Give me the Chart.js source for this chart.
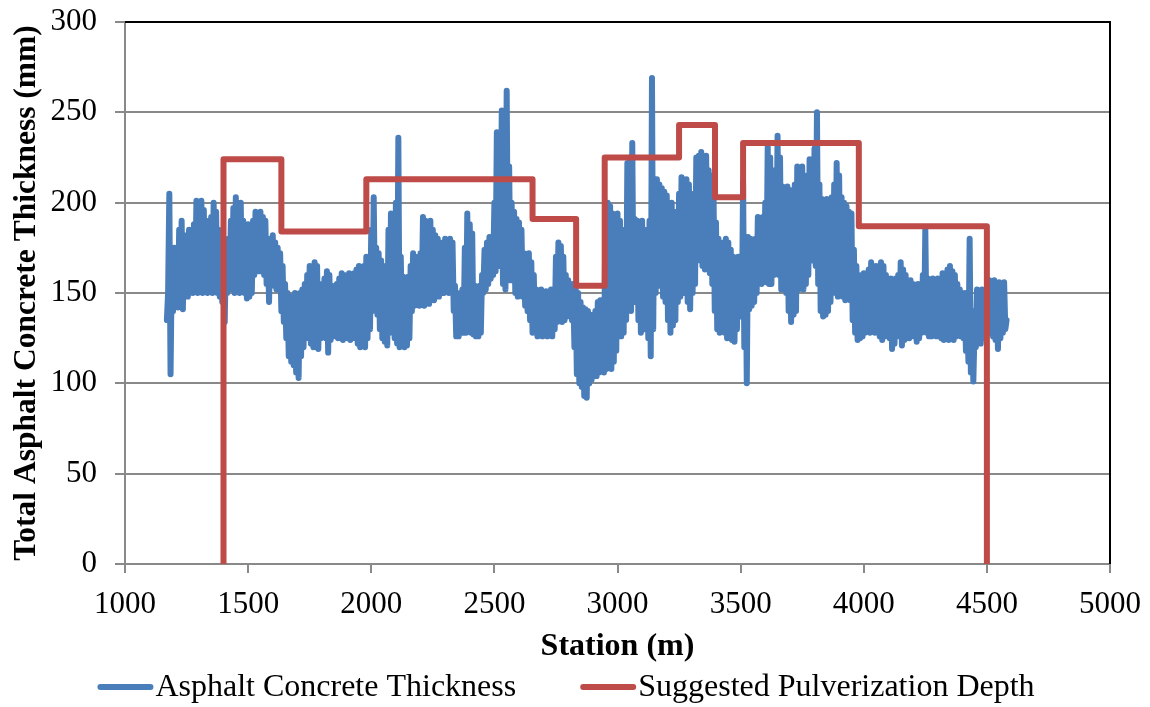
<!DOCTYPE html>
<html><head><meta charset="utf-8">
<script src="https://cdn.jsdelivr.net/npm/chart.js@4.4.1/dist/chart.umd.min.js"></script>
<style>html,body{margin:0;padding:0;background:#fff;overflow:hidden}#wrap{width:1150px;height:707px}</style>
</head><body><div id="wrap"><canvas id="c" width="1150" height="707"></canvas></div>
<script>
// ---- data ----
const STATION_START = 1170;   // m, first sample
const STATION_STEP = 5;       // m, sample spacing
// one row = 100 m of survey (20 readings)
const thicknessMm = [
  135,150,205,105,165,140,175,145,170,142,185,150,190,141,178,150,182,148,185,152,
  178,150,188,152,201,150,198,153,201,150,196,152,190,150,185,151,192,150,200,153,
  195,150,185,148,178,145,160,134,175,150,180,152,190,154,197,150,203,152,198,150,
  200,155,190,150,185,147,188,148,180,150,190,160,195,165,194,162,195,165,192,160,
  190,155,180,145,178,155,182,154,178,152,175,155,172,140,165,134,155,125,150,115,
  148,112,145,110,150,106,140,103,150,115,152,120,155,125,160,128,165,122,162,120,
  167,122,165,119,155,125,150,128,158,125,162,117,160,124,154,126,152,128,155,125,
  158,126,161,124,160,128,156,125,161,124,158,127,161,125,163,122,165,120,162,122,
  165,120,170,125,168,130,185,140,203,145,175,138,172,130,168,125,165,123,160,121,
  185,128,194,130,190,125,200,122,236,120,170,122,159,120,155,121,159,125,165,140,
  172,143,170,145,168,143,172,145,192,143,190,145,188,144,190,150,185,146,182,148,
  180,148,178,150,176,150,180,152,178,150,180,152,178,140,154,126,150,126,148,128,
  152,128,175,128,194,130,188,128,183,127,154,126,152,126,154,128,160,150,174,152,
  178,155,181,158,180,160,200,162,239,165,200,165,251,155,240,152,262,160,220,157,
  200,157,195,150,191,148,189,150,185,148,172,143,170,140,172,135,167,128,160,130,
  152,126,150,128,152,126,150,127,151,126,150,128,152,126,150,130,170,134,178,136,
  176,134,170,135,160,137,157,138,155,135,155,120,154,105,150,100,145,98,142,93,
  141,92,140,100,138,102,135,104,140,104,145,106,146,108,145,106,180,108,200,110,
  198,108,194,112,190,118,194,126,190,126,181,128,185,135,222,145,225,140,233,145,
  191,145,190,135,188,128,190,130,185,130,182,125,190,115,269,130,210,150,213,154,
  210,154,208,148,206,145,204,135,200,128,200,132,195,135,190,145,205,148,214,150,
  213,150,213,145,210,141,200,150,205,155,225,170,226,168,228,165,225,163,226,165,
  218,161,215,155,205,140,189,130,180,128,175,130,178,128,180,125,178,126,174,124,
  170,123,165,130,170,137,168,137,211,120,180,100,181,141,180,143,178,145,180,150,
  192,157,190,155,192,157,200,156,231,155,225,155,215,160,218,165,237,160,225,152,
  209,160,207,150,209,140,207,134,205,138,210,140,220,152,218,155,220,152,215,155,
  212,160,224,168,224,168,230,165,250,155,210,140,202,137,200,138,202,140,198,145,
  203,155,210,150,222,148,215,150,203,148,200,146,198,147,195,146,194,135,174,128,
  165,124,160,125,154,126,161,128,160,130,163,128,167,130,164,128,165,130,162,126,
  167,124,165,126,160,128,155,125,158,119,155,122,158,126,160,128,167,121,163,124,
  160,126,157,125,157,128,155,126,152,123,155,125,155,128,160,130,185,128,158,126,
  157,126,158,128,156,126,158,128,150,125,161,124,160,126,163,124,165,126,162,124,
  160,126,155,128,152,126,150,125,150,118,148,112,180,106,140,101,130,120,152,122,
  150,122,152,125,148,128,150,130,157,128,156,126,157,124,155,119,156,125,155,128,
  156,130,135
];
const pulvBreaks = [1400, 1635, 1980, 2655, 2832, 2948, 3250, 3396, 3510, 3980, 4500]; // m
const pulvDepths = [224, 184, 213, 191, 154, 225, 243, 203, 233, 187];               // mm
const seriesNames = ['Asphalt Concrete Thickness', 'Suggested Pulverization Depth'];
const xAxisTitle = 'Station (m)';
const yAxisTitle = 'Total Asphalt Concrete Thickness (mm)';
const X_MIN = 1000, X_MAX = 5000, X_STEP = 500;
const Y_MIN = 0, Y_MAX = 300, Y_STEP = 50;

// ---- build library data ----
const thicknessPts = thicknessMm.map((v, i) => ({x: STATION_START + i * STATION_STEP, y: v}));
const pulvPts = [{x: pulvBreaks[0], y: 0}];
pulvDepths.forEach((d, i) => {
  pulvPts.push({x: pulvBreaks[i], y: d});
  pulvPts.push({x: pulvBreaks[i + 1], y: d});
});
pulvPts.push({x: pulvBreaks[pulvBreaks.length - 1], y: 0});

const BLUE = '#4A7EBB', RED = '#BE4B48';
const FONT = "'Liberation Serif', 'Times New Roman', serif";
const GRID = '#898989';

const frame = {
  id: 'frame',
  afterDatasetsDraw(chart) {
    const {ctx, chartArea: a} = chart;
    ctx.save();
    ctx.strokeStyle = '#000';
    ctx.lineWidth = 2;
    ctx.beginPath();
    ctx.moveTo(a.left, a.top); ctx.lineTo(a.right, a.top); ctx.lineTo(a.right, a.bottom);
    ctx.stroke();
    ctx.restore();
  },
  afterDraw(chart) {
    // legend
    const ctx = chart.ctx;
    ctx.save();
    ctx.font = '32px ' + FONT;
    ctx.textBaseline = 'middle';
    const sample = 56, gap = 2, spacing = 64, cy = 687;
    const ds = chart.data.datasets;
    const widths = ds.map(d => ctx.measureText(d.label).width);
    const total = widths.reduce((s, w) => s + sample + gap + w, 0) + spacing * (ds.length - 1);
    let x = 566 - total / 2;
    ds.forEach((d, i) => {
      ctx.strokeStyle = d.borderColor;
      ctx.lineWidth = 6;
      ctx.lineCap = 'round';
      ctx.beginPath(); ctx.moveTo(x + 3, cy); ctx.lineTo(x + sample - 3, cy); ctx.stroke();
      ctx.fillStyle = '#000';
      ctx.fillText(d.label, x + sample + gap, cy + 1);
      x += sample + gap + widths[i] + spacing;
    });
    ctx.restore();
  }
};

const plainTick = v => String(v);

new Chart(document.getElementById('c'), {
  type: 'line',
  data: {
    datasets: [
      {label: seriesNames[0], data: thicknessPts, borderColor: BLUE, backgroundColor: BLUE, order: 2,
       borderWidth: 6, pointRadius: 0, tension: 0, borderJoinStyle: 'round', borderCapStyle: 'round'},
      {label: seriesNames[1], data: pulvPts, borderColor: RED, backgroundColor: RED, order: 1,
       borderWidth: 6, pointRadius: 0, tension: 0, borderJoinStyle: 'round', borderCapStyle: 'butt'}
    ]
  },
  options: {
    responsive: false,
    animation: false,
    layout: {padding: {left: 0, right: 40, top: 22, bottom: 41}},
    plugins: {legend: {display: false}, tooltip: {enabled: false}},
    scales: {
      x: {
        type: 'linear', min: X_MIN, max: X_MAX,
        ticks: {stepSize: X_STEP, color: '#000', font: {family: FONT, size: 31}, padding: 13, maxRotation: 0, callback: plainTick},
        grid: {display: true, drawOnChartArea: false, drawTicks: true, tickLength: 9, color: GRID, lineWidth: 2},
        border: {display: true, color: GRID, width: 2},
        title: {display: true, text: xAxisTitle, color: '#000', font: {family: FONT, size: 32, weight: 'bold'}, padding: {top: 0, bottom: 0}},
        afterFit(s) { s.height = 102; s.paddingLeft = 0; s.paddingRight = 0; }
      },
      y: {
        min: Y_MIN, max: Y_MAX,
        ticks: {stepSize: Y_STEP, color: '#000', font: {family: FONT, size: 31}, padding: 18, callback: plainTick},
        grid: {color: GRID, lineWidth: 2, tickLength: 10, drawTicks: true},
        border: {display: true, color: GRID, width: 2},
        title: {display: true, text: yAxisTitle, color: '#000', font: {family: FONT, size: 31.5, weight: 'bold'}, padding: {top: 8, bottom: 0}},
        afterFit(s) { s.width = 125; s.paddingTop = 0; s.paddingBottom = 0; }
      }
    }
  },
  plugins: [frame]
});
</script></body></html>
